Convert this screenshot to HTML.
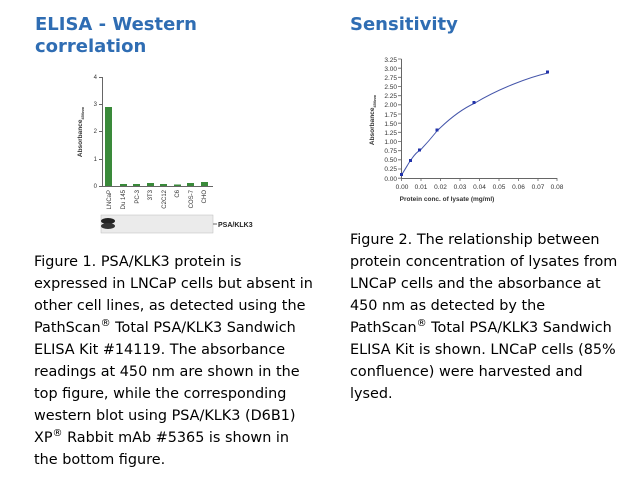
<!DOCTYPE html>
<html><head><meta charset="utf-8"><style>
body{margin:0;width:642px;height:477px;background:#fff;overflow:hidden;position:relative;font-family:"DejaVu Sans",Verdana,sans-serif}
.h{position:absolute;color:#2f6db3;font-weight:bold;font-size:18px;line-height:22px;white-space:nowrap}
.p{position:absolute;font-size:14.4px;line-height:22px;color:#000;white-space:nowrap}
sup{font-size:10px;line-height:0}
</style></head><body>
<div class="h" style="left:35px;top:14px">ELISA - Western<br>correlation</div>
<div class="h" style="left:350px;top:14px">Sensitivity</div>
<div class="p" style="left:34px;top:251px">Figure 1. PSA/KLK3 protein is<br>expressed in LNCaP cells but absent in<br>other cell lines, as detected using the<br>PathScan<sup>®</sup> Total PSA/KLK3 Sandwich<br>ELISA Kit #14119. The absorbance<br>readings at 450 nm are shown in the<br>top figure, while the corresponding<br>western blot using PSA/KLK3 (D6B1)<br>XP<sup>®</sup> Rabbit mAb #5365 is shown in<br>the bottom figure.</div>
<div class="p" style="left:350px;top:229px">Figure 2. The relationship between<br>protein concentration of lysates from<br>LNCaP cells and the absorbance at<br>450 nm as detected by the<br>PathScan<sup>®</sup> Total PSA/KLK3 Sandwich<br>ELISA Kit is shown. LNCaP cells (85%<br>confluence) were harvested and<br>lysed.</div>
<svg width="642" height="477" style="position:absolute;left:0;top:0" font-family="Liberation Sans, sans-serif">
<g stroke="#666" stroke-width="1" fill="none">
<path d="M102.5 77V186.5H213"/>
<path d="M99 77.5h3.5M99 104.5h3.5M99 131.5h3.5M99 159.5h3.5M99 186.5h3.5"/>
</g>
<g font-size="6" fill="#333" text-anchor="end">
<text x="97" y="79">4</text><text x="97" y="106">3</text><text x="97" y="133">2</text><text x="97" y="161">1</text><text x="97" y="188">0</text>
</g>
<text transform="translate(82,132) rotate(-90)" font-size="6.5" font-weight="bold" fill="#333" text-anchor="middle">Absorbance<tspan font-size="4" dy="2">450nm</tspan></text>
<g fill="#3a8a3a">
<rect x="105" y="107" width="7" height="79"/>
<rect x="120" y="184" width="7" height="2"/>
<rect x="133" y="184" width="7" height="2"/>
<rect x="147" y="183" width="7" height="3"/>
<rect x="160" y="184" width="7" height="2"/>
<rect x="174" y="184.5" width="7" height="1.5"/>
<rect x="187" y="183" width="7" height="3"/>
<rect x="201" y="182" width="7" height="4"/>
</g>
<g font-size="6" fill="#333" text-anchor="end">
<text transform="translate(111,190) rotate(-90)">LNCaP</text>
<text transform="translate(125,190) rotate(-90)">Du 145</text>
<text transform="translate(139,190) rotate(-90)">PC-3</text>
<text transform="translate(152,190) rotate(-90)">3T3</text>
<text transform="translate(166,190) rotate(-90)">C2C12</text>
<text transform="translate(179,190) rotate(-90)">C6</text>
<text transform="translate(193,190) rotate(-90)">COS-7</text>
<text transform="translate(206,190) rotate(-90)">CHO</text>
</g>
<rect x="101" y="215" width="112" height="18" fill="#ebebeb" stroke="#bbb" stroke-width="0.5"/>
<ellipse cx="108" cy="221" rx="7" ry="3" fill="#222"/>
<ellipse cx="108" cy="226" rx="7" ry="3" fill="#333"/>
<path d="M213 224h4" stroke="#666"/>
<text x="218" y="227" font-size="7" font-weight="bold" fill="#222">PSA/KLK3</text>

<g stroke="#666" stroke-width="1" fill="none">
<path d="M401.5 59V178.5H557"/>
</g>
<g stroke="#666" stroke-width="0.8">
<path d="M398 59h3.5M398 68.2h3.5M398 77.3h3.5M398 86.5h3.5M398 95.7h3.5M398 104.8h3.5M398 114h3.5M398 123.2h3.5M398 132.3h3.5M398 141.5h3.5M398 150.7h3.5M398 159.8h3.5M398 169h3.5M398 178.2h3.5"/>
<path d="M401.5 178v3M421 178v3M440.5 178v3M460 178v3M479.5 178v3M499 178v3M518.5 178v3M538 178v3M557 178v3"/>
</g>
<g font-size="6.5" fill="#333" text-anchor="end">
<text x="397" y="62">3.25</text><text x="397" y="71">3.00</text><text x="397" y="80">2.75</text><text x="397" y="89">2.50</text><text x="397" y="98">2.25</text><text x="397" y="107">2.00</text><text x="397" y="117">1.75</text><text x="397" y="126">1.50</text><text x="397" y="135">1.25</text><text x="397" y="144">1.00</text><text x="397" y="153">0.75</text><text x="397" y="162">0.50</text><text x="397" y="171">0.25</text><text x="397" y="181">0.00</text>
</g>
<g font-size="6.5" fill="#333" text-anchor="middle">
<text x="402" y="189">0.00</text><text x="421" y="189">0.01</text><text x="440.5" y="189">0.02</text><text x="460" y="189">0.03</text><text x="479.5" y="189">0.04</text><text x="499" y="189">0.05</text><text x="518.5" y="189">0.06</text><text x="538" y="189">0.07</text><text x="557" y="189">0.08</text>
</g>
<text x="447" y="201" font-size="6.5" font-weight="bold" fill="#333" text-anchor="middle">Protein conc. of lysate (mg/ml)</text>
<text transform="translate(374,120) rotate(-90)" font-size="6.5" font-weight="bold" fill="#333" text-anchor="middle">Absorbance<tspan font-size="4" dy="2">450nm</tspan></text>
<path d="M401.5 175 C406 168 408 164 410.5 160.5 S416 152 420 150.5 C428 142 433 136 437 131 C450 118 462 109 475 103 C500 88 530 77 548 73" stroke="#4455aa" fill="none" stroke-width="1"/>
<g fill="#2233aa">
<rect x="400" y="173" width="3" height="3"/><rect x="409" y="159" width="3" height="3"/><rect x="418" y="148.5" width="3" height="3"/><rect x="435.5" y="128.5" width="3" height="3"/><rect x="472.5" y="101" width="3" height="3"/><rect x="546" y="70.5" width="3" height="3"/>
</g>
</svg>
</body></html>
